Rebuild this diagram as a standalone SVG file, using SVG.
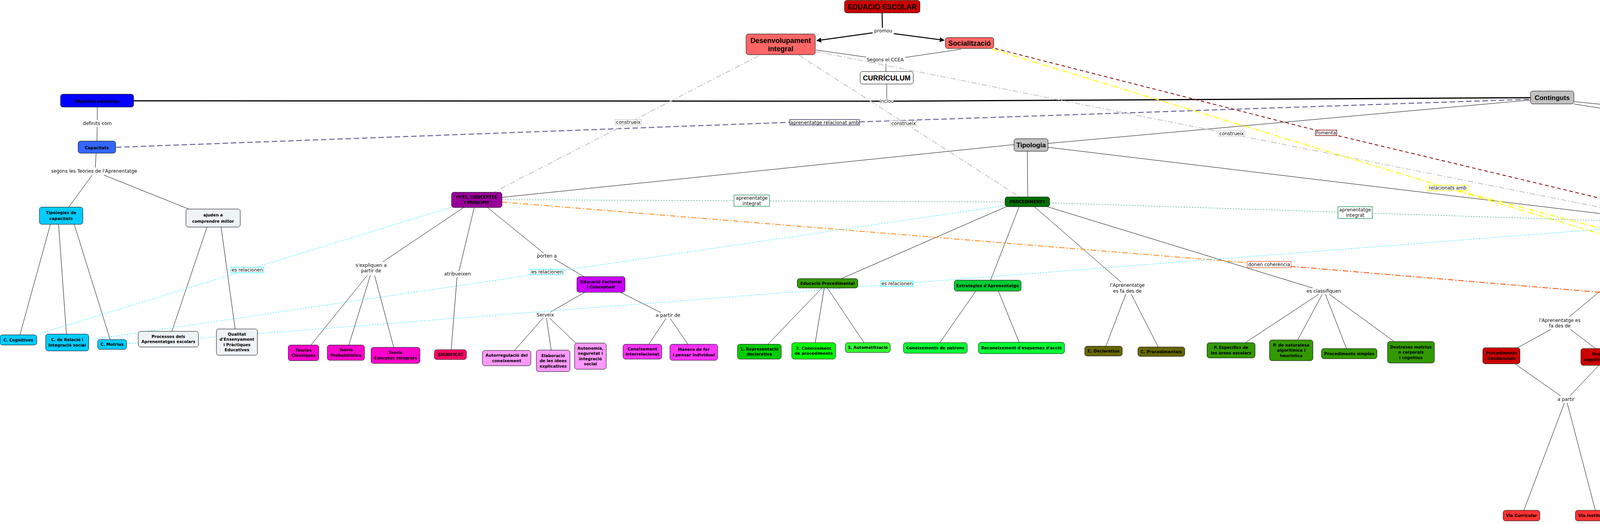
<svg xmlns="http://www.w3.org/2000/svg" width="5981" height="1341" viewBox="0 0 5981 1341">
<defs>
<marker id="arr" viewBox="0 0 10 10" refX="9" refY="5" markerWidth="5" markerHeight="5" orient="auto"><path d="M0,0 L10,5 L0,10 z" fill="#000"/></marker>
<style>
.n{stroke:#000;stroke-width:1}
.t{font-family:"DejaVu Sans",Verdana,sans-serif;font-weight:bold;font-size:10.3px;text-anchor:middle;fill:#000}
.ta{font-family:"Liberation Sans",Arial,sans-serif;font-weight:bold;text-anchor:middle;fill:#000}
.l{font-family:"DejaVu Sans",Verdana,sans-serif;font-size:12px;text-anchor:middle;fill:#111}
.k{stroke:#000;stroke-width:1;fill:none}
.kk{stroke:#000;stroke-width:3;fill:none}
.ka{stroke:#000;stroke-width:2.5;fill:none}
.cy{stroke:#33EEFF;stroke-width:1.2;stroke-dasharray:4 3;fill:none}
.te{stroke:#339977;stroke-width:1;stroke-dasharray:4 3;fill:none}
.gr{stroke:#CCCCCC;stroke-width:2.5;stroke-dasharray:14 5 3 5;fill:none}
.pu{stroke:#666699;stroke-width:2.5;stroke-dasharray:14 7;fill:none}
.dr{stroke:#800000;stroke-width:2;stroke-dasharray:9 7;fill:none}
.ye{stroke:#FFFF00;stroke-width:2.5;stroke-dasharray:14 5 3 5;fill:none}
.or1{stroke:#FF9933;stroke-width:2.5;stroke-dasharray:14 5 3 5;fill:none}
.or2{stroke:#FF6622;stroke-width:2.5;stroke-dasharray:14 5 3 5;fill:none}
.lb{fill:#fff;stroke-width:1.5}
.lt{fill:#EEF3F5}
</style>
</defs>
<rect x="0" y="0" width="5981" height="1341" fill="#fff"/>

<g id="connectors">
<!-- top -->
<line class="ka" x1="2258" y1="33" x2="2259" y2="71"/>
<line class="ka" x1="2234" y1="84" x2="2091" y2="104" marker-end="url(#arr)"/>
<line class="ka" x1="2288" y1="86" x2="2417" y2="103" marker-end="url(#arr)"/>
<line class="k" x1="2089" y1="128" x2="2217" y2="146"/>
<line class="k" x1="2460" y1="126" x2="2317" y2="147"/>
<line class="k" x1="2268" y1="163" x2="2268" y2="183"/>
<line class="k" x1="2270" y1="216" x2="2270" y2="252"/>
<line class="kk" x1="2252" y1="259" x2="342" y2="258"/>
<line class="kk" x1="2288" y1="259" x2="3918" y2="250"/>
<!-- left -->
<line class="k" x1="249" y1="274" x2="249" y2="307"/>
<line class="k" x1="249" y1="325" x2="248" y2="361"/>
<line class="k" x1="246" y1="392" x2="244" y2="429"/>
<line class="k" x1="236" y1="448" x2="176" y2="530"/>
<line class="k" x1="266" y1="448" x2="483" y2="535"/>
<line class="k" x1="129" y1="574" x2="51" y2="857"/>
<line class="k" x1="150" y1="574" x2="170" y2="855"/>
<line class="k" x1="190" y1="574" x2="282" y2="869"/>
<line class="k" x1="530" y1="581" x2="440" y2="848"/>
<line class="k" x1="566" y1="581" x2="602" y2="842"/>
<!-- Tipologia / Continguts -->
<line class="k" x1="2596" y1="370" x2="1285" y2="505"/>
<line class="k" x1="2630" y1="387" x2="2631" y2="504"/>
<line class="k" x1="2683" y1="377" x2="4209" y2="560"/>
<line class="k" x1="3918" y1="256" x2="2683" y2="367"/>
<line class="k" x1="4029" y1="266" x2="5073" y2="433"/>
<line class="k" x1="4029" y1="260" x2="5745" y2="431"/>
<!-- FETS branch -->
<line class="k" x1="1187" y1="531" x2="980" y2="670"/>
<line class="k" x1="940" y1="705" x2="796" y2="883"/>
<line class="k" x1="948" y1="705" x2="893" y2="883"/>
<line class="k" x1="959" y1="705" x2="1008" y2="889"/>
<line class="k" x1="1214" y1="531" x2="1175" y2="694"/>
<line class="k" x1="1170" y1="709" x2="1155" y2="895"/>
<line class="k" x1="1248" y1="531" x2="1392" y2="648"/>
<line class="k" x1="1419" y1="663" x2="1495" y2="708"/>
<line class="k" x1="1497" y1="748" x2="1410" y2="798"/>
<line class="k" x1="1390" y1="814" x2="1317" y2="897"/>
<line class="k" x1="1399" y1="814" x2="1411" y2="896"/>
<line class="k" x1="1407" y1="814" x2="1474" y2="878"/>
<line class="k" x1="1588" y1="748" x2="1692" y2="800"/>
<line class="k" x1="1705" y1="815" x2="1661" y2="881"/>
<line class="k" x1="1716" y1="815" x2="1761" y2="881"/>
<!-- PROCEDIMENTS branch -->
<line class="k" x1="2576" y1="529" x2="2154" y2="713"/>
<line class="k" x1="2609" y1="529" x2="2536" y2="717"/>
<line class="k" x1="2648" y1="529" x2="2870" y2="722"/>
<line class="k" x1="2681" y1="529" x2="3360" y2="737"/>
<line class="k" x1="2104" y1="737" x2="1966" y2="881"/>
<line class="k" x1="2110" y1="737" x2="2087" y2="877"/>
<line class="k" x1="2118" y1="737" x2="2212" y2="877"/>
<line class="k" x1="2498" y1="745" x2="2406" y2="877"/>
<line class="k" x1="2556" y1="745" x2="2609" y2="876"/>
<line class="k" x1="2882" y1="753" x2="2831" y2="886"/>
<line class="k" x1="2896" y1="753" x2="2965" y2="888"/>
<line class="k" x1="3376" y1="753" x2="3188" y2="877"/>
<line class="k" x1="3385" y1="753" x2="3322" y2="870"/>
<line class="k" x1="3393" y1="753" x2="3447" y2="892"/>
<line class="k" x1="3403" y1="753" x2="3569" y2="874"/>
<!-- ACTITUDS branch -->
<line class="k" x1="4290" y1="584" x2="4017" y2="811"/>
<line class="k" x1="3970" y1="843" x2="3885" y2="890"/>
<line class="k" x1="4020" y1="843" x2="4085" y2="892"/>
<line class="k" x1="3878" y1="931" x2="3995" y2="1013"/>
<line class="k" x1="4093" y1="935" x2="4019" y2="1013"/>
<line class="k" x1="4005" y1="1031" x2="3901" y2="1306"/>
<line class="k" x1="4012" y1="1031" x2="4084" y2="1306"/>
<line class="k" x1="4308" y1="584" x2="4310" y2="800"/>
<line class="k" x1="4311" y1="816" x2="4311" y2="888"/>
<line class="k" x1="4311" y1="928" x2="4311" y2="963"/>
<line class="k" x1="4294" y1="982" x2="4228" y2="1018"/>
<line class="k" x1="4312" y1="982" x2="4312" y2="1024"/>
<line class="k" x1="4328" y1="982" x2="4412" y2="1020"/>
<line class="k" x1="4205" y1="1060" x2="4300" y2="1144"/>
<line class="k" x1="4310" y1="1054" x2="4314" y2="1144"/>
<line class="k" x1="4446" y1="1060" x2="4335" y2="1144"/>
<line class="k" x1="4315" y1="1170" x2="4316" y2="1211"/>
<line class="k" x1="4317" y1="1229" x2="4317" y2="1298"/>
<line class="k" x1="4324" y1="584" x2="4557" y2="833"/>
<line class="k" x1="4570" y1="852" x2="4680" y2="1142"/>
<line class="k" x1="4637" y1="1172" x2="4558" y2="1290"/>
<line class="k" x1="4662" y1="1172" x2="4650" y2="1309"/>
<line class="k" x1="4697" y1="1172" x2="4762" y2="1312"/>
<line class="k" x1="4728" y1="1172" x2="4868" y2="1298"/>
<!-- right -->
<line class="k" x1="5107" y1="465" x2="4999" y2="604"/>
<line class="k" x1="5146" y1="465" x2="5254" y2="595"/>
<line class="k" x1="4987" y1="630" x2="4991" y2="712"/>
<line class="k" x1="4989" y1="729" x2="4939" y2="825"/>
<line class="k" x1="5000" y1="729" x2="5066" y2="824"/>
<line class="k" x1="5281" y1="658" x2="5280" y2="717"/>
<line class="k" x1="5279" y1="747" x2="5278" y2="830"/>
<line class="k" x1="5783" y1="452" x2="5688" y2="600"/>
<line class="k" x1="5805" y1="452" x2="5810" y2="610"/>
<line class="k" x1="5832" y1="452" x2="5934" y2="610"/>
<!-- cross links -->
<line class="pu" x1="297" y1="377" x2="2022" y2="313"/>
<line class="pu" x1="2200" y1="312" x2="3918" y2="254"/>
<line class="gr" x1="1942" y1="143" x2="1266" y2="491"/>
<line class="gr" x1="2045" y1="141" x2="2609" y2="503"/>
<line class="gr" x1="2089" y1="132" x2="4225" y2="556"/>
<line class="dr" x1="2547" y1="124" x2="3395" y2="340"/>
<line class="dr" x1="3395" y1="340" x2="4300" y2="556"/>
<line class="ye" x1="2540" y1="126" x2="3706" y2="481"/>
<line class="ye" x1="3706" y1="481" x2="4856" y2="827"/>
<line class="ye" x1="3706" y1="481" x2="5018" y2="826"/>
<line class="te" x1="1285" y1="511" x2="2573" y2="517"/>
<line class="te" x1="2687" y1="519" x2="4209" y2="568"/>
<line class="or1" x1="1285" y1="517" x2="3249" y2="677"/>
<line class="or2" x1="3249" y1="677" x2="5217" y2="842"/>
<line class="cy" x1="94" y1="856" x2="1156" y2="530"/>
<line class="cy" x1="227" y1="870" x2="2573" y2="526"/>
<line class="cy" x1="324" y1="880" x2="4209" y2="578"/>
</g>

<g id="labels">
<g id="l-promou"><text class="l" x="2261" y="83.3">promou</text></g>
<g id="l-segons-ccea"><text class="l" x="2266" y="157.3">Segons el CCEA</text></g>
<g id="l-inclou"><text class="l" x="2270" y="263.3">inclou</text></g>
<g id="l-definits"><text class="l" x="249" y="320.3">definits com</text></g>
<g id="l-segons-teories"><text class="l" x="241" y="442.3">segons les Teories de l'Aprenentatge</text></g>
<g id="l-sexpliquen"><text class="l" x="950"><tspan x="950" y="683.3">s'expliquen a</tspan><tspan x="950" y="697.3">partir de</tspan></text></g>
<g id="l-atribueixen1"><text class="l" x="1171" y="705.3">atribueixen</text></g>
<g id="l-porten"><text class="l" x="1400" y="659.3">porten a</text></g>
<g id="l-serveix"><text class="l" x="1396" y="810.3">Serveix</text></g>
<g id="l-apartirde"><text class="l" x="1710" y="811.3">a partir de</text></g>
<g id="l-aprenentatge1"><text class="l" x="2886"><tspan x="2886" y="734.3">l'Aprenentatge</tspan><tspan x="2886" y="749.3">es fa des de</tspan></text></g>
<g id="l-classifiquen"><text class="l" x="3389" y="749.3">es classifiquen</text></g>
<g id="l-aprenentatge2"><text class="l" x="3993"><tspan x="3993" y="824.3">l'Aprenentatge es</tspan><tspan x="3993" y="838.3">fa des de</tspan></text></g>
<g id="l-apartir"><text class="l" x="4009" y="1026.3">a partir</text></g>
<g id="l-escola"><text class="l" x="4311" y="812.3">a l'Escola</text></g>
<g id="l-basa"><text class="l" x="4311" y="976.3">es basa en</text></g>
<g id="l-reprodueix"><text class="l" x="4317" y="1224.3">es reprodueix</text></g>
<g id="l-diferents"><text class="l" x="4565" y="846.3">té diferents</text></g>
<g id="l-atribueixen2"><text class="l" x="4992" y="724.3">atribueixen</text></g>
<g id="l-atribueixen3"><text class="l" x="5278"><tspan x="5278" y="729.3">atribueixen</tspan><tspan x="5278" y="743.3">a l'alumne</tspan></text></g>

<g id="l-rel1"><rect class="lb" x="591" y="684" width="84" height="14" stroke="#33FFFF"/><text class="l" x="633" y="695.3">es relacionen</text></g>
<g id="l-rel2"><rect class="lb" x="1359" y="689" width="83" height="14" stroke="#33FFFF"/><text class="l" x="1400.5" y="700.3">es relacionen</text></g>
<g id="l-rel3"><rect class="lb" x="2255" y="719" width="83" height="14" stroke="#33FFFF"/><text class="l" x="2296.5" y="730.3">es relacionen</text></g>
<g id="l-integrat1"><rect class="lb" x="1879" y="499" width="91" height="29" stroke="#339966"/><text class="l" x="1924.5"><tspan x="1924.5" y="510.8">aprenentatge</tspan><tspan x="1924.5" y="524.8">integrat</tspan></text></g>
<g id="l-integrat2"><rect class="lb" x="3425" y="529" width="88" height="30" stroke="#339966"/><text class="l" x="3469"><tspan x="3469" y="541.3">aprenentatge</tspan><tspan x="3469" y="555.3">integrat</tspan></text></g>
<g id="l-relacionat"><rect class="lb" x="2022" y="306" width="178" height="14" stroke="#333366" stroke-width="1"/><text class="l" x="2111" y="317.8">aprenentatge relacionat amb</text></g>
<g id="l-construeix1"><rect class="lb" x="1575" y="306" width="67" height="14" stroke="#CCCCCC"/><text class="l" x="1608.5" y="317.3">construeix</text></g>
<g id="l-construeix2"><rect class="lb" x="2280" y="309" width="67" height="14" stroke="#CCCCCC"/><text class="l" x="2313.5" y="319.8">construeix</text></g>
<g id="l-construeix3"><rect class="lb" x="3119" y="335" width="68" height="14" stroke="#CCCCCC"/><text class="l" x="3153" y="346.3">construeix</text></g>
<g id="l-fomenta"><rect class="lb" x="3368" y="333" width="54" height="14" stroke="#800000"/><text class="l" x="3395" y="344.3">fomenta</text></g>
<g id="l-relacionats"><rect class="lb" x="3653" y="474" width="106" height="14" stroke="#FFFF00"/><text class="l" x="3706" y="485.3">relacionats amb</text></g>
<g id="l-coherencia"><rect class="lb" x="3193" y="669" width="112" height="16" stroke="#FF6633"/><text class="l" x="3249" y="681.3">donen coherència</text></g>
</g>

<g id="n-eduacio"><rect class="n" x="2162" y="1" width="193" height="32" rx="6" fill="#CC0000"/><text class="ta" x="2258.5" y="23.5" font-size="18">EDUACIÓ ESCOLAR</text></g>
<g id="n-desenvolupament"><rect class="n" x="1910" y="87" width="177" height="53" rx="6" fill="#FF6666"/><text class="ta" x="1998.5" font-size="18"><tspan x="1998.5" y="109.5">Desenvolupament</tspan><tspan x="1998.5" y="130.5">integral</tspan></text></g>
<g id="n-socialitzacio"><rect class="n" x="2420" y="96" width="124" height="28" rx="6" fill="#FF6666"/><text class="ta" x="2482" y="116.5" font-size="18">Socialització</text></g>
<g id="n-curriculum"><rect class="n" x="2202" y="183" width="136" height="32" rx="6" fill="#fff"/><text class="ta" x="2270" y="205.5" font-size="18">CURRÍCULUM</text></g>
<g id="n-continguts"><rect class="n" x="3918" y="233" width="111" height="33" rx="6" fill="#C0C0C0"/><text class="ta" x="3973.5" y="255.5" font-size="17">Continguts</text></g>
<g id="n-tipologia"><rect class="n" x="2596" y="355" width="87" height="32" rx="6" fill="#C0C0C0"/><text class="ta" x="2639.5" y="377" font-size="17">Tipologia</text></g>

<g id="n-objectius"><rect class="n" x="155" y="241" width="187" height="33" rx="6" fill="#0000FF"/><text class="t" x="248.5" y="263" font-size="15">Objectius educatius</text></g>
<g id="n-capacitats"><rect class="n" x="200" y="361" width="96" height="31" rx="6" fill="#3366FF"/><text class="t" x="248" y="381.5" font-size="14">Capacitats</text></g>
<g id="n-tipologies-cap"><rect class="n" x="101" y="530" width="111" height="44" rx="6" fill="#00CCFF"/><text class="t" x="156.5" font-size="12"><tspan x="156.5" y="548">Tipologies de</tspan><tspan x="156.5" y="563">capacitats</tspan></text></g>
<g id="n-ajuden"><rect class="n lt" x="476" y="535" width="139" height="46" rx="6"/><text class="t" x="545.5" font-size="12"><tspan x="545.5" y="554">ajuden a</tspan><tspan x="545.5" y="570">comprendre millor</tspan></text></g>
<g id="n-cognitives"><rect class="n" x="0" y="857" width="94" height="26" rx="6" fill="#00CCFF"/><text class="t" x="47" y="873.7">C. Cognitives</text></g>
<g id="n-relacio"><rect class="n" x="117" y="855" width="110" height="43" rx="6" fill="#00CCFF"/><text class="t" x="172"><tspan x="172" y="873.45">C. de Relació i</tspan><tspan x="172" y="886.95">Integració social</tspan></text></g>
<g id="n-motrius"><rect class="n" x="250" y="869" width="74" height="25" rx="6" fill="#00CCFF"/><text class="t" x="287" y="885.2">C. Motrius</text></g>
<g id="n-processos"><rect class="n lt" x="354" y="848" width="154" height="40" rx="6"/><text class="t" x="431"><tspan x="431" y="864.95">Processos dels</tspan><tspan x="431" y="878.45">Aprenentatges escolars</tspan></text></g>
<g id="n-qualitat"><rect class="n lt" x="554" y="842" width="105" height="67" rx="6"/><text class="t" x="606.5"><tspan x="606.5" y="858.95">Qualitat</tspan><tspan x="606.5" y="872.45">d'Ensenyament</tspan><tspan x="606.5" y="885.95">i Pràctiques</tspan><tspan x="606.5" y="899.45">Educatives</tspan></text></g>

<g id="n-fets"><rect class="n" x="1156" y="492" width="129" height="39" rx="6" fill="#990099"/><text class="t" x="1220.5" font-size="10.5"><tspan x="1220.5" y="508.45">FETS, CONCEPTES</tspan><tspan x="1220.5" y="521.95">I PRINCIPIS</tspan></text></g>
<g id="n-classiques"><rect class="n" x="738" y="883" width="78" height="40" rx="6" fill="#FF00CC"/><text class="t" x="777"><tspan x="777" y="899.95">Teories</tspan><tspan x="777" y="913.45">Clàssiques</tspan></text></g>
<g id="n-probabilistica"><rect class="n" x="838" y="883" width="95" height="39" rx="6" fill="#FF00CC"/><text class="t" x="885.5"><tspan x="885.5" y="899.45">Teoria</tspan><tspan x="885.5" y="912.95">Probabilística</tspan></text></g>
<g id="n-concptes"><rect class="n" x="950" y="889" width="125" height="41" rx="6" fill="#FF00CC"/><text class="t" x="1012.5"><tspan x="1012.5" y="906.45">Teoria</tspan><tspan x="1012.5" y="919.95">Concptes integrats</tspan></text></g>
<g id="n-significat"><rect class="n" x="1112" y="895" width="82" height="25" rx="6" fill="#FF0066"/><text class="t" x="1153" y="911.2">SIGNIFICAT</text></g>
<g id="n-autorregulacio"><rect class="n" x="1235" y="897" width="124" height="39" rx="6" fill="#FF99FF"/><text class="t" x="1297"><tspan x="1297" y="913.45">Autorregulació del</tspan><tspan x="1297" y="926.95">coneixement</tspan></text></g>
<g id="n-elaboracio"><rect class="n" x="1373" y="896" width="86" height="55" rx="6" fill="#FF99FF"/><text class="t" x="1416"><tspan x="1416" y="913.7">Elaboració</tspan><tspan x="1416" y="927.2">de les idees</tspan><tspan x="1416" y="940.7">explicatives</tspan></text></g>
<g id="n-autonomia"><rect class="n" x="1471" y="878" width="81" height="67" rx="6" fill="#FF99FF"/><text class="t" x="1511.5"><tspan x="1511.5" y="894.95">Autonomia,</tspan><tspan x="1511.5" y="908.45">seguretat i</tspan><tspan x="1511.5" y="921.95">integració</tspan><tspan x="1511.5" y="935.45">social</tspan></text></g>
<g id="n-factorial"><rect class="n" x="1477" y="708" width="123" height="40" rx="6" fill="#CC00FF"/><text class="t" x="1538.5"><tspan x="1538.5" y="724.95">Educació Factorial</tspan><tspan x="1538.5" y="738.45">i Conceptual</tspan></text></g>
<g id="n-interrelacionat"><rect class="n" x="1595" y="881" width="99" height="38" rx="6" fill="#FF33FF"/><text class="t" x="1644.5"><tspan x="1644.5" y="896.95">Coneixement</tspan><tspan x="1644.5" y="910.45">interrelacionat</tspan></text></g>
<g id="n-manera"><rect class="n" x="1715" y="881" width="122" height="41" rx="6" fill="#FF33FF"/><text class="t" x="1776"><tspan x="1776" y="898.45">Manera de fer</tspan><tspan x="1776" y="911.95">i pensar individual</tspan></text></g>

<g id="n-procediments"><rect class="n" x="2573" y="504" width="114" height="25" rx="6" fill="#007000"/><text class="t" x="2630" y="520.2">PROCEDIMENTS</text></g>
<g id="n-procedimental"><rect class="n" x="2041" y="713" width="155" height="24" rx="6" fill="#339900"/><text class="t" x="2118.5" y="728.7">Educació Procedimental</text></g>
<g id="n-representacio"><rect class="n" x="1888" y="881" width="112" height="38" rx="6" fill="#00CC00"/><text class="t" x="1944"><tspan x="1944" y="896.95">1. Representació</tspan><tspan x="1944" y="910.45">declarativa</tspan></text></g>
<g id="n-coneixement-proc"><rect class="n" x="2027" y="877" width="112" height="42" rx="6" fill="#00FF00"/><text class="t" x="2083"><tspan x="2083" y="894.95">2. Coneixement</tspan><tspan x="2083" y="908.45">de procediments</tspan></text></g>
<g id="n-automatitzacio"><rect class="n" x="2164" y="877" width="115" height="25" rx="6" fill="#33FF33"/><text class="t" x="2221.5" y="893.2">3. Automatització</text></g>
<g id="n-estrategies"><rect class="n" x="2443" y="717" width="171" height="28" rx="6" fill="#00CC33"/><text class="t" x="2528.5" y="734.7">Estratègies d'Aprenentatge</text></g>
<g id="n-patrons"><rect class="n" x="2313" y="877" width="163" height="27" rx="6" fill="#00FF33"/><text class="t" x="2394.5" y="894.2">Coneixements de patrons</text></g>
<g id="n-esquemes"><rect class="n" x="2505" y="876" width="220" height="29" rx="6" fill="#00FF33"/><text class="t" x="2615" y="894.2">Reconeixement d'esquemes d'acció</text></g>
<g id="n-declaratius"><rect class="n" x="2777" y="886" width="96" height="25" rx="6" fill="#666600"/><text class="t" x="2825" y="902.2">C. Declaratius</text></g>
<g id="n-procedimentals"><rect class="n" x="2913" y="888" width="120" height="24" rx="6" fill="#666600"/><text class="t" x="2973" y="903.7">C. Procedimentals</text></g>
<g id="n-especifics"><rect class="n" x="3090" y="877" width="123" height="39" rx="6" fill="#339900"/><text class="t" x="3151.5"><tspan x="3151.5" y="893.45">P. Específics de</tspan><tspan x="3151.5" y="906.95">les àrees escolars</tspan></text></g>
<g id="n-naturalesa"><rect class="n" x="3250" y="870" width="111" height="53" rx="6" fill="#339900"/><text class="t" x="3305.5"><tspan x="3305.5" y="886.7">P. de naturalesa</tspan><tspan x="3305.5" y="900.2">algorítmica i</tspan><tspan x="3305.5" y="913.7">heurística</tspan></text></g>
<g id="n-simples"><rect class="n" x="3383" y="892" width="142" height="26" rx="6" fill="#339900"/><text class="t" x="3454" y="908.7">Procediments simples</text></g>
<g id="n-destreses"><rect class="n" x="3552" y="874" width="120" height="55" rx="6" fill="#339900"/><text class="t" x="3612"><tspan x="3612" y="891.7">Destreses motrius</tspan><tspan x="3612" y="905.2">o corporals</tspan><tspan x="3612" y="918.7">i cognitius</tspan></text></g>

<g id="n-actituds"><rect class="n" x="4209" y="557" width="198" height="27" rx="6" fill="#990000"/><text class="t" x="4308" y="574.2">ACTITUDS, VALORS I NORMES</text></g>
<g id="n-conducutals"><rect class="n" x="3796" y="890" width="95" height="41" rx="6" fill="#CC0000"/><text class="t" x="3843.5"><tspan x="3843.5" y="907.45">Procediments</tspan><tspan x="3843.5" y="920.95">Conducutals</tspan></text></g>
<g id="n-cognitivo"><rect class="n" x="4047" y="892" width="138" height="43" rx="6" fill="#CC0000"/><text class="t" x="4116"><tspan x="4116" y="910.45">Procediments</tspan><tspan x="4116" y="923.95">cognitivo-contructius</tspan></text></g>
<g id="n-curricular"><rect class="n" x="3848" y="1306" width="94" height="27" rx="6" fill="#FF3333"/><text class="t" x="3895" y="1323.2">Via Curricular</text></g>
<g id="n-institucional"><rect class="n" x="4033" y="1306" width="109" height="27" rx="6" fill="#FF3333"/><text class="t" x="4087.5" y="1323.2">Via Institucional</text></g>
<g id="n-valors"><rect class="n" x="4247" y="888" width="127" height="40" rx="6" fill="#CC0000"/><text class="t" x="4310.5"><tspan x="4310.5" y="904.95">Educació en Valors</tspan><tspan x="4310.5" y="918.45">o Moral</tspan></text></g>
<g id="n-personal"><rect class="n" x="4150" y="1018" width="79" height="42" rx="6" fill="#CC0000"/><text class="t" x="4189.5"><tspan x="4189.5" y="1035.95">Personal i</tspan><tspan x="4189.5" y="1049.45">subjectiva</tspan></text></g>
<g id="n-experiencia"><rect class="n" x="4270" y="1024" width="84" height="30" rx="6" fill="#CC0000"/><text class="t" x="4312" y="1042.7">Experiència</text></g>
<g id="n-transmissio"><rect class="n" x="4407" y="1020" width="112" height="40" rx="6" fill="#CC0000"/><text class="t" x="4463"><tspan x="4463" y="1036.95">Transmissió per</tspan><tspan x="4463" y="1050.45">valors culturals</tspan></text></g>
<g id="n-aula"><rect class="n" x="4286" y="1144" width="58" height="26" rx="6" fill="#FF0000"/><text class="t" x="4315" y="1160.7">A l'aula</text></g>
<g id="n-entorn"><rect class="n" x="4239" y="1298" width="155" height="26" rx="6" fill="#FF3333"/><text class="t" x="4316.5" y="1314.7">L'entorn social i cultural</text></g>
<g id="n-caracteristiques"><rect class="n" x="4631" y="1142" width="110" height="30" rx="6" fill="#FF0000"/><text class="t" x="4686" y="1160.7">Característiques</text></g>
<g id="n-totalitat"><rect class="n" x="4506" y="1290" width="72" height="41" rx="6" fill="#FF6666"/><text class="t" x="4542"><tspan x="4542" y="1307.45">Totalitat</tspan><tspan x="4542" y="1320.95">integrada</tspan></text></g>
<g id="n-interrelacionats"><rect class="n" x="4596" y="1309" width="104" height="24" rx="6" fill="#FF6666"/><text class="t" x="4648" y="1324.7">Interrelacionats</text></g>
<g id="n-evolutius"><rect class="n" x="4734" y="1312" width="70" height="25" rx="6" fill="#FF6666"/><text class="t" x="4769" y="1328.2">Evolutius</text></g>
<g id="n-influenciats"><rect class="n" x="4832" y="1298" width="121" height="39" rx="6" fill="#FF6666"/><text class="t" x="4892.5"><tspan x="4892.5" y="1314.45">Influenciats pels a</tspan><tspan x="4892.5" y="1327.95">altres i l'entorn</tspan></text></g>

<g id="n-concretats"><rect class="n lt" x="5073" y="417" width="101" height="48" rx="6"/><text class="t" x="5123.5" font-size="13"><tspan x="5123.5" y="436">concretats</tspan><tspan x="5123.5" y="455">a partir de</tspan></text></g>
<g id="n-ordenats"><rect class="n" x="5745" y="421" width="113" height="31" rx="6" fill="#FFFF00"/><text class="t" x="5801.5" y="441.3" font-size="13.3">ordenats per</text></g>
<g id="n-funcions"><rect class="n lt" x="4945" y="604" width="79" height="26" rx="6"/><text class="t" x="4984.5" y="621.3" font-size="12">Funcions</text></g>
<g id="n-concepcio"><rect class="n lt" x="5224" y="595" width="116" height="63" rx="6"/><text class="t" x="5282" font-size="11.5"><tspan x="5282" y="614">Concepció</tspan><tspan x="5282" y="631">per a</tspan><tspan x="5282" y="647">l'Aprenentatge</tspan></text></g>
<g id="n-eix"><rect class="n lt" x="4858" y="825" width="136" height="38" rx="6"/><text class="t" x="4926" font-size="9.7"><tspan x="4926" y="841">Un eix estructurador</tspan><tspan x="4926" y="854.5">de les relacions</tspan></text></g>
<g id="n-element"><rect class="n lt" x="5018" y="825" width="126" height="38" rx="6"/><text class="t" x="5081" font-size="9.7"><tspan x="5081" y="841">Un element cultural</tspan><tspan x="5081" y="854.5">mediador</tspan></text></g>
<g id="n-significat-personal"><rect class="n lt" x="5217" y="830" width="122" height="27" rx="6"/><text class="t" x="5278" y="847" font-size="9.7">Significat personal</text></g>
<g id="n-escolar-arees"><rect class="n" x="5635" y="600" width="78" height="38" rx="6" fill="#FFFF99"/><text class="t" x="5674" font-size="9.3"><tspan x="5674" y="616.1">C. Escolar</tspan><tspan x="5674" y="628.6">en Àrees</tspan></text></g>
<g id="n-transversals"><rect class="n" x="5759" y="610" width="104" height="24" rx="6" fill="#FFFF99"/><text class="t" x="5811" y="625.35" font-size="9.3">C. Transversals</text></g>
<g id="n-etapes"><rect class="n" x="5908" y="610" width="70" height="26" rx="6" fill="#FFFF99"/><text class="t" x="5943" y="626.35" font-size="9.3">C. Etapes</text></g>
</svg>
